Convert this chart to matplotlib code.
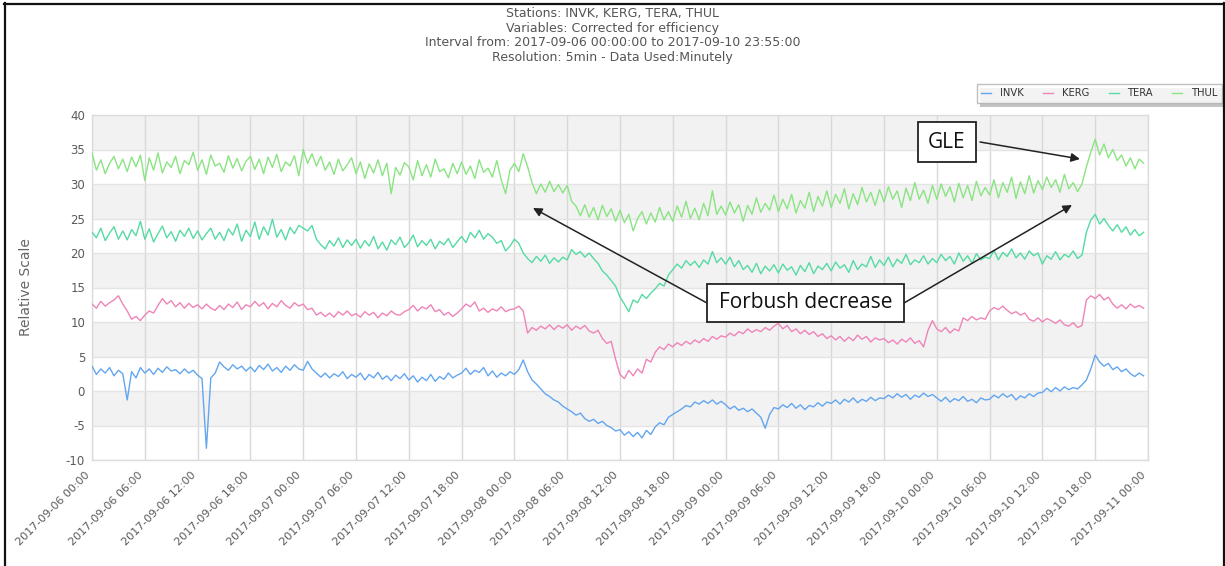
import numpy as np
import matplotlib
matplotlib.use("Agg")
import matplotlib.pyplot as plt
from matplotlib.patches import Rectangle

plt.rcParams["axes.unicode_minus"] = False

# ---------------- data (30-min samples, hours since 2017-09-06 00:00) ----------------
station_names = ["INVK", "KERG", "TERA", "THUL"]

THUL = [
    34.5, 32.0, 33.5, 31.5, 33.0, 34.0, 32.2, 33.6, 31.8, 33.9, 32.5, 34.2,
    30.5, 33.8, 32.0, 34.5, 31.6, 33.2, 32.4, 34.0, 31.5, 33.4, 32.8, 34.6,
    32.0, 33.5, 31.4, 34.2, 32.6, 33.0, 31.7, 34.1, 32.3, 33.7, 31.9, 33.3,
    34.0, 32.1, 33.6, 31.5, 33.9, 32.4, 34.3, 31.8, 33.2, 32.6, 34.1, 31.2,
    35.0, 33.0, 34.4, 32.6, 34.0, 32.0, 33.2, 31.4, 33.6, 31.9, 32.8, 33.8,
    31.5, 33.2, 30.8, 32.9, 31.6, 33.5, 31.2, 33.0, 28.6, 32.4, 31.3, 33.1,
    32.5, 30.6, 33.4, 31.2, 32.8, 31.0, 33.6, 31.8, 32.2, 30.9, 33.0, 31.5,
    33.2, 31.4, 32.6, 30.8, 33.5, 31.7, 32.3, 31.0, 33.4, 30.6, 28.6, 32.0,
    33.0, 31.8, 34.4, 32.5, 30.2, 28.6, 30.0, 28.8, 30.4, 28.9, 29.9, 28.7,
    29.8, 27.5, 26.8, 25.4, 27.0, 25.2, 26.6, 24.8, 26.9, 25.3, 26.4, 24.6,
    26.2, 24.4, 25.6, 23.2, 25.0, 26.0, 24.2, 25.8, 24.5, 26.6, 24.8, 26.0,
    24.6, 26.8, 25.2, 27.5, 25.0, 26.5, 24.8, 27.2, 25.4, 29.0, 25.6, 26.8,
    25.5, 27.4, 25.8, 27.0, 24.6, 26.9, 25.6, 28.0, 25.9, 27.2, 26.2, 28.4,
    26.0, 27.8, 26.4, 28.5, 25.8, 27.6, 26.5, 28.8, 26.0, 28.2, 26.8, 29.0,
    26.6, 28.5, 27.2, 29.3, 26.4, 28.6, 27.0, 29.5, 27.4, 28.8, 26.9, 29.2,
    27.4, 29.6, 27.8, 29.0, 26.6, 29.4, 27.6, 30.2, 27.8, 29.1, 27.2, 29.8,
    27.8, 30.0, 28.2, 29.6, 27.4, 30.1, 28.0, 29.8, 27.6, 30.4, 28.3, 29.5,
    28.4, 30.6, 28.0, 30.2, 28.8, 31.0, 27.9, 30.3, 28.6, 31.2, 28.7, 30.5,
    29.2, 31.0, 29.5, 30.6, 28.8, 31.4, 29.3, 30.2, 28.9, 30.0, 32.5, 34.6,
    36.5, 34.2, 35.8, 33.8, 35.0, 33.4, 34.2, 32.6, 33.8, 32.2, 33.6, 33.0,
]

TERA = [
    23.0, 22.2, 23.6, 21.8, 22.9, 23.8, 22.0, 23.2, 21.9, 23.4, 22.5, 24.6,
    22.0, 23.5, 21.6, 22.8, 23.9, 22.2, 23.1, 21.7, 23.3, 22.4, 23.6, 22.1,
    23.2, 21.9, 22.8, 23.6, 22.0, 23.0, 21.8, 23.5, 22.6, 24.2, 21.7, 23.3,
    22.4, 24.5, 22.0, 23.8, 22.6, 24.9, 22.3, 23.4, 21.9, 23.7, 22.8, 24.0,
    23.6, 23.2, 24.0, 22.0, 21.2, 20.6, 21.8, 21.0, 22.2, 20.8, 21.9, 21.1,
    22.0, 20.7, 21.8, 21.0, 22.4, 20.6, 21.6, 20.4, 21.9, 21.2, 22.3, 20.8,
    21.5, 22.6, 20.9, 21.8, 21.1, 22.0, 20.6, 21.7, 21.2, 22.1, 20.8, 21.6,
    22.4, 21.5, 23.0, 22.2, 23.3, 22.0, 22.8, 22.3, 21.4, 21.8, 20.3, 21.0,
    22.0, 21.4, 20.0, 19.2, 18.6, 19.5, 18.8, 19.7, 18.5, 19.3, 18.7, 19.4,
    19.0, 20.5, 19.8, 20.2, 19.4, 20.0, 19.2, 18.5, 17.4, 16.8, 16.0, 15.2,
    13.6, 12.6, 11.5, 13.2, 12.8, 14.0, 13.4, 14.2, 14.8, 15.6, 15.2, 16.8,
    17.6, 18.4, 17.8, 18.9, 18.2, 18.8, 17.9, 19.0, 18.4, 20.2, 18.6, 19.3,
    18.4, 19.4, 18.0, 18.9, 17.6, 18.2, 17.2, 18.5, 17.0, 18.1, 17.4, 18.3,
    17.1, 18.4, 17.5, 18.0, 16.8, 18.2, 17.3, 18.6, 17.0, 18.1, 17.6, 18.5,
    17.4, 18.7, 17.8, 18.3, 17.2, 18.9, 17.6, 18.4, 18.0, 19.5, 17.9, 19.0,
    18.2, 19.4, 18.0, 19.1, 18.5, 19.8, 18.3, 19.0, 18.6, 19.6, 18.4, 19.2,
    18.6, 19.8, 18.9, 19.5, 18.4, 20.0, 18.8, 19.6, 18.5, 19.9, 19.0, 19.4,
    19.2, 20.4, 19.0, 20.1, 19.5, 20.6, 19.3, 20.0, 19.1, 20.3, 19.6, 20.0,
    18.4, 19.6, 19.1, 20.2, 19.0, 19.8, 19.4, 20.3, 19.2, 19.7, 23.0, 24.8,
    25.6, 24.2, 25.0, 24.0, 23.2, 24.1, 23.0, 23.8, 22.6, 23.4, 22.5, 23.0,
]

KERG = [
    12.6, 12.0, 13.0, 12.3, 12.8, 13.2, 13.8, 12.6, 11.6, 10.4, 10.8, 10.2,
    11.0, 11.6, 11.3, 12.4, 13.4, 12.6, 13.1, 12.2, 12.8, 12.0, 12.7, 12.1,
    12.5, 11.9, 12.6, 12.0, 11.7, 12.4, 11.8, 12.6, 12.1, 12.9, 11.8, 12.5,
    12.2, 13.0, 12.3, 12.8, 11.9, 12.7, 12.2, 13.1, 12.4, 12.0, 12.8, 12.3,
    12.6, 11.8, 12.0, 11.0, 11.4, 10.8, 11.3, 10.7, 11.5, 11.0, 11.6, 10.9,
    11.2, 10.7, 11.5, 11.0, 11.4, 10.6, 11.3, 10.9, 11.6, 11.1, 11.0, 11.5,
    11.8, 12.4, 11.6, 12.2, 11.9, 12.5, 11.5, 11.8, 11.0, 11.4, 10.8, 11.3,
    11.9, 12.6, 12.2, 12.9, 11.6, 12.0, 11.4, 11.9, 11.6, 12.2, 11.5, 11.8,
    11.9, 12.3, 11.6, 8.4, 9.2, 8.8, 9.4, 9.0, 9.6, 8.9, 9.5, 9.1,
    9.6, 8.8, 9.4, 9.0, 9.5, 8.7, 8.4, 8.8, 7.6, 6.9, 7.2, 4.6,
    2.4, 1.8, 3.0, 2.2, 3.2, 2.6, 4.6, 4.2, 5.6, 6.4, 6.0, 6.8,
    6.4, 7.0, 6.6, 7.2, 6.8, 7.4, 7.0, 7.6, 7.2, 7.9, 7.5, 8.0,
    7.8, 8.4, 8.0, 8.6, 8.3, 9.0, 8.5, 8.9, 8.6, 9.2, 8.8, 9.4,
    9.8, 9.0, 9.5, 8.6, 9.0, 8.3, 8.8, 8.2, 8.6, 7.9, 8.3, 7.6,
    8.0, 7.4, 7.9, 7.2, 7.8, 7.3, 8.1, 7.5, 7.9, 7.1, 7.7, 7.4,
    7.6, 7.0, 7.4, 6.8, 7.5, 7.1, 7.7, 6.9, 7.3, 6.4, 8.8, 10.2,
    9.0, 8.6, 9.2, 8.4, 9.0, 8.7, 10.6, 10.2, 10.8, 10.3, 10.6, 10.4,
    11.6, 12.1, 11.8, 12.3, 11.7, 11.2, 11.5, 11.0, 11.3, 10.4, 10.1, 10.6,
    10.0, 10.5, 10.2, 9.8, 10.3, 9.6, 9.4, 9.9, 9.2, 9.5, 13.2, 13.8,
    13.4, 14.0, 13.2, 13.6, 12.6, 12.0, 12.5, 11.9, 12.6, 12.1, 12.4, 12.0,
]

INVK = [
    3.6, 2.4, 3.2, 2.6, 3.4, 2.2, 3.0, 2.5, -1.3, 2.8, 1.9, 3.4,
    2.6, 3.2, 2.4, 3.3, 2.7, 3.5, 2.9, 3.1, 2.5, 3.2, 2.6, 3.0,
    2.3, 1.8, -8.3, 1.9, 2.6, 4.2, 3.5, 3.0, 3.8, 3.2, 3.6, 2.9,
    3.5, 2.8, 3.7, 3.1, 3.9, 2.9, 3.4, 2.7, 3.6, 3.0, 3.8, 3.2,
    3.0, 4.3, 3.2, 2.6, 2.0, 2.6, 1.9, 2.5, 2.1, 2.8, 1.8, 2.4,
    2.0, 2.6, 1.6, 2.4, 1.9, 2.7, 1.7, 2.2, 1.5, 2.3, 1.8, 2.5,
    1.6, 2.2, 1.3, 2.0, 1.5, 2.4, 1.4, 2.1, 1.7, 2.6, 1.9, 2.3,
    2.6, 3.3, 2.4, 3.0, 2.7, 3.4, 2.2, 2.9, 2.0, 2.6, 2.2, 2.8,
    2.4, 3.1, 4.5, 2.8, 1.6, 1.0, 0.3, -0.4, -0.8, -1.3, -1.6, -2.2,
    -2.6, -3.0, -3.5, -3.2, -4.0, -4.4, -4.1, -4.7, -4.4, -5.0, -5.3, -5.8,
    -5.6, -6.4, -5.9, -6.6, -6.0, -6.8, -5.7, -6.3, -5.2, -4.6, -4.9, -3.8,
    -3.4, -3.0, -2.6, -2.1, -2.3, -1.6, -1.9, -1.4, -1.8, -1.3, -1.9, -1.5,
    -2.0, -2.6, -2.2, -2.8, -2.5, -3.0, -2.6, -3.2, -3.8, -5.4, -3.4, -2.4,
    -2.6, -2.0, -2.4, -1.8, -2.5, -2.0, -2.7, -2.1, -2.3, -1.7, -2.2, -1.6,
    -1.8, -1.3, -1.9, -1.2, -1.6, -1.0, -1.7, -1.2, -1.5, -0.9, -1.4, -1.0,
    -1.1, -0.6, -1.0, -0.4, -0.9, -0.5, -1.2, -0.6, -0.9, -0.3, -0.8, -0.5,
    -1.0, -1.5, -0.9, -1.6, -1.1, -1.4, -0.8, -1.5, -1.2, -1.7, -1.0, -1.3,
    -1.2, -0.6, -1.0, -0.4, -0.9, -0.5, -1.3, -0.7, -1.0, -0.4, -0.8, -0.3,
    -0.2, 0.4, -0.1, 0.5, 0.0, 0.6, 0.2, 0.5, 0.3, 0.9, 1.6, 3.2,
    5.2, 4.2, 3.6, 4.0, 3.1, 3.5, 2.8, 3.2, 2.5, 2.1, 2.6, 2.2,
]

x_tick_labels = [
    "2017-09-06 00:00", "2017-09-06 06:00", "2017-09-06 12:00", "2017-09-06 18:00",
    "2017-09-07 00:00", "2017-09-07 06:00", "2017-09-07 12:00", "2017-09-07 18:00",
    "2017-09-08 00:00", "2017-09-08 06:00", "2017-09-08 12:00", "2017-09-08 18:00",
    "2017-09-09 00:00", "2017-09-09 06:00", "2017-09-09 12:00", "2017-09-09 18:00",
    "2017-09-10 00:00", "2017-09-10 06:00", "2017-09-10 12:00", "2017-09-10 18:00",
    "2017-09-11 00:00",
]
y_ticks = [-10, -5, 0, 5, 10, 15, 20, 25, 30, 35, 40]

title_lines = [
    "Stations: INVK, KERG, TERA, THUL",
    "Variables: Corrected for efficiency",
    "Interval from: 2017-09-06 00:00:00 to 2017-09-10 23:55:00",
    "Resolution: 5min - Data Used:Minutely",
]

# ---------------- figure ----------------
W, H = 1225, 566
fig = plt.figure(figsize=(W / 100, H / 100), dpi=100)
fig.patch.set_facecolor("white")

def fx(px):
    return px / W

def fy(py):
    return 1 - py / H

ax = fig.add_axes([fx(92), fy(460), fx(1148) - fx(92), fy(115) - fy(460)])
ax.set_xlim(0, 120)
ax.set_ylim(-10, 40)

# alternating bands
for lo in range(-10, 40, 5):
    if (lo // 5) % 2 == 1:
        ax.axhspan(lo, lo + 5, facecolor="#f2f2f2", edgecolor="none", zorder=0)

ax.set_yticks(y_ticks)
ax.set_xticks(np.arange(0, 121, 6))
ax.set_xticklabels(x_tick_labels, rotation=45, ha="right", va="top")
ax.grid(axis="y", color="#e4e4e4", lw=1, zorder=1)
ax.grid(axis="x", color="#d8d8d8", lw=1, zorder=1)
ax.set_axisbelow(True)
ax.tick_params(axis="both", length=0, colors="#5a5a5a")
ax.tick_params(axis="y", labelsize=8.5, pad=5)
ax.tick_params(axis="x", labelsize=8, pad=7)
for s in ax.spines.values():
    s.set_color("#dcdcdc")
    s.set_linewidth(1)

hours = np.arange(len(THUL)) * 0.5
colors = {"INVK": "#63a6ef", "KERG": "#ef84b8", "TERA": "#55dba2", "THUL": "#8ae482"}
series = {"INVK": INVK, "KERG": KERG, "TERA": TERA, "THUL": THUL}
handles = []
for name in station_names:
    (h,) = ax.plot(hours, series[name], color=colors[name], lw=1.0, zorder=3, label=name)
    handles.append(h)

# titles
for i, line in enumerate(title_lines):
    fig.text(0.5, fy(14 + i * 14.4), line, ha="center", va="center",
             fontsize=9, color="#555555")

fig.text(fx(26), fy(287), "Relative Scale", rotation=90, ha="center", va="center",
         fontsize=10, color="#666666")

# legend with shadow
shadow = Rectangle((fx(980), fy(107)), fx(1225) - fx(980), fy(88) - fy(107),
                   transform=fig.transFigure, facecolor="#c4c4c4", edgecolor="none", zorder=5)
fig.patches.append(shadow)
leg = fig.legend(handles=handles, labels=station_names, loc="upper right",
                 bbox_to_anchor=(fx(1222), fy(84)), ncol=4, fontsize=7.2,
                 frameon=True, fancybox=False, edgecolor="#b0b0b0",
                 handlelength=1.0, handletextpad=0.9, columnspacing=1.9,
                 borderpad=0.45, borderaxespad=0)
leg.get_frame().set_linewidth(1.0)
leg.set_zorder(6)
for t in leg.get_texts():
    t.set_color("#333333")

# annotation boxes
def box(x0, y0, x1, y1, text, size):
    r = Rectangle((fx(x0), fy(y1)), fx(x1) - fx(x0), fy(y0) - fy(y1),
                  transform=fig.transFigure, facecolor="white", edgecolor="#222222",
                  lw=1.3, zorder=10)
    fig.patches.append(r)
    fig.text(fx((x0 + x1) / 2), fy((y0 + y1) / 2), text, ha="center", va="center",
             fontsize=size, family=["Open Sans", "DejaVu Sans"], color="#111111", zorder=11)

def arrow(xt, yt, xh, yh):
    ax.annotate("", xy=(xh, H - yh), xytext=(xt, H - yt),
                xycoords="figure pixels", textcoords="figure pixels",
                arrowprops=dict(arrowstyle="-|>", color="#222222", lw=1.1,
                                mutation_scale=13, shrinkA=0, shrinkB=0),
                zorder=9)

box(918, 122, 976, 162, "GLE", 15)
box(707, 284, 904, 322, "Forbush decrease", 15)
arrow(980, 142, 1080, 159)
arrow(707, 303, 533, 208)
arrow(904, 303, 1072, 205)

# outer frame of the screenshot
for (xa, ya, xb, yb) in [(4.5, 3, 4.5, 566), (4, 3.5, 1225, 3.5), (1223.5, 3, 1223.5, 566)]:
    fig.add_artist(plt.Line2D([fx(xa), fx(xb)], [fy(ya), fy(yb)], transform=fig.transFigure,
                              color="#111111", lw=1.6, zorder=20))

fig.savefig("out.png", dpi=100)
